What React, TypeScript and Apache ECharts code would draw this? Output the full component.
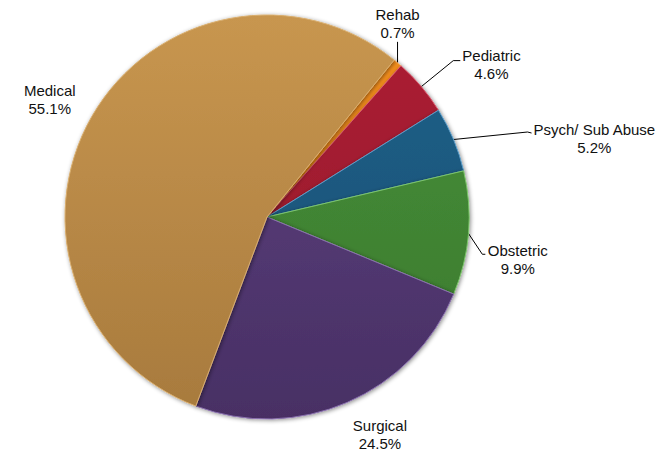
import React, { useEffect, useRef } from 'react';
import * as echarts from 'echarts';

// ---- data ----
const categories = ['Rehab', 'Pediatric', 'Psych/ Sub Abuse', 'Obstetric', 'Surgical', 'Medical'];
const shares = [0.7, 4.6, 5.2, 9.9, 24.5, 55.1];

// ---- styles ----
const topColors = ['#F7921F', '#AD2034', '#1F6189', '#489039', '#5E4381', '#C8964F'];
const bottomColors = ['#E0780E', '#911729', '#164E72', '#3A792E', '#482F64', '#A77A3D'];
const edgeColors = ['#FFB060', '#D8566A', '#5A9CC8', '#7CC46A', '#8A70AE', '#D9AE6E'];
const leaderVisible = [true, true, true, true, false, false];

// label placement, relative to the slice's outer mid-point supplied by the library
const labelPlacement: any[] = [
  { dx: 0, dy: -21, align: 'center', vAlign: 'bottom', line: [[0, -21], [0, -21]] },
  { dx: 41, dy: -22.5, align: 'left', vAlign: 'middle', line: [[32, -26], [39, -26]] },
  { dx: 79.5, dy: -1.5, align: 'left', vAlign: 'middle', line: [[74, -7.5], [78, -6.5]] },
  { dx: 19.5, dy: 26, align: 'left', vAlign: 'middle', line: [[14, 21], [17, 21]] },
  { dx: 32.5, dy: 32, align: 'center', vAlign: 'middle', line: [] },
  { dx: -42, dy: -17, align: 'center', vAlign: 'middle', line: [] },
];

export default function App() {
  const ref = useRef<HTMLDivElement>(null);

  useEffect(() => {
    if (!ref.current) return;
    const chart = echarts.init(ref.current, undefined, { renderer: 'svg' });

    const data = categories.map((name, i) => ({
      name,
      value: shares[i],
      itemStyle: {
        color: {
          type: 'linear',
          x: 0,
          y: 15,
          x2: 0,
          y2: 420,
          global: true,
          colorStops: [
            { offset: 0, color: topColors[i] },
            { offset: 1, color: bottomColors[i] },
          ],
        },
        borderColor: edgeColors[i],
        borderWidth: 1,
      },
      labelLine: leaderVisible[i]
        ? { show: true }
        : { show: true, lineStyle: { opacity: 0 } },
    }));

    chart.setOption({
      animation: false,
      backgroundColor: '#ffffff',
      series: [
        {
          type: 'pie',
          center: [267, 217],
          radius: 202,
          startAngle: 51,
          clockwise: true,
          avoidLabelOverlap: false,
          data,
          itemStyle: {
            shadowBlur: 4,
            shadowColor: 'rgba(0,0,0,0.45)',
            shadowOffsetX: 1,
            shadowOffsetY: 1,
          },
          label: {
            show: true,
            position: 'outside',
            formatter: (p: any) => `{t|${p.name}}\n{t|${Number(p.value).toFixed(1)}%}`,
            rich: {
              t: {
                align: 'center',
                fontSize: 15,
                lineHeight: 18,
                color: '#111111',
                fontFamily: '"Liberation Sans", Arial, sans-serif',
              },
            },
          },
          labelLine: {
            show: true,
            smooth: false,
            lineStyle: { color: '#000000', width: 1 },
          },
          labelLayout: (params: any) => {
            const pl = labelPlacement[params.dataIndex];
            const pts = params.labelLinePoints;
            if (!pl || !pts || !pts[0]) return {};
            const x0 = pts[0][0];
            const y0 = pts[0][1];
            const out: any = {
              x: x0 + pl.dx,
              y: y0 + pl.dy,
              align: pl.align,
              verticalAlign: pl.vAlign,
            };
            if (pl.line.length) {
              out.labelLinePoints = [[x0, y0], ...pl.line.map((d: number[]) => [x0 + d[0], y0 + d[1]])];
            } else {
              out.labelLinePoints = [[x0, y0], [x0, y0], [x0, y0]];
            }
            return out;
          },
          emphasis: { disabled: true },
        },
      ],
    });

    return () => chart.dispose();
  }, []);

  return (
    <div
      ref={ref}
      style={{ position: 'fixed', left: 0, top: 0, width: 671, height: 452, background: '#fff' }}
    />
  );
}
